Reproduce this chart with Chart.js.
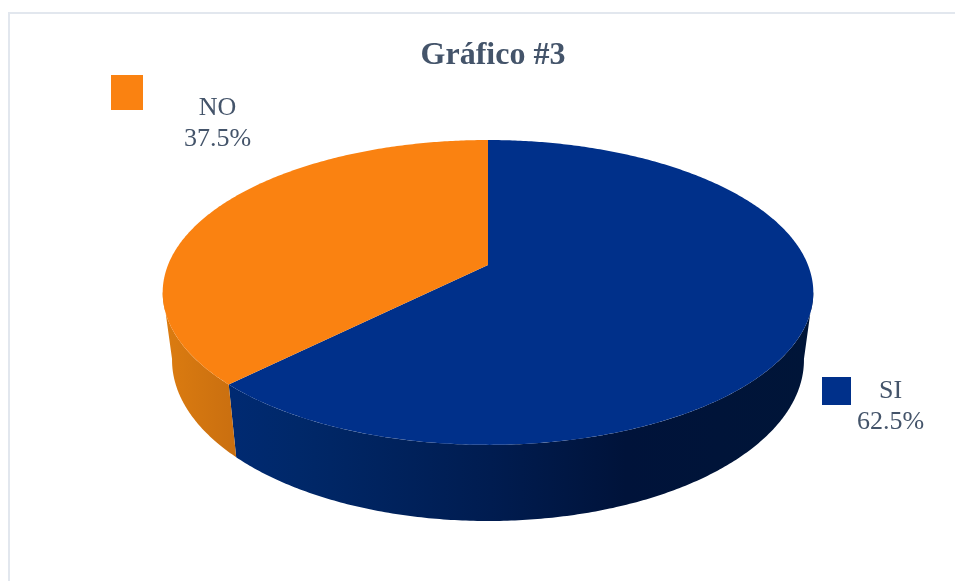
<!DOCTYPE html>
<html>
<head>
<meta charset="utf-8">
<title>Gráfico #3</title>
<script src="https://cdn.jsdelivr.net/npm/chart.js@4"></script>
<style>
    html, body { margin: 0; padding: 0; background: #fff; overflow: hidden; }
    #marco { position: absolute; left: 8px; top: 12px; right: -4px; bottom: -4px; border: 2px solid #e2e7ee; }
    #grafica { position: absolute; left: 0; top: 0; display: block; }
</style>
</head>
<body>
<div id="marco"></div>
<canvas id="grafica" width="955" height="581"></canvas>
<script>
const categorias = ['SI', 'NO'];
const porcentajes = [62.5, 37.5];
const colores = ['#00308a', '#fa8211'];

// Disco superior e inferior de la torta en perspectiva
const CX = 488;
const PERSPECTIVA = -0.18;
const discoSup = { y: 265, r: 320, alto: 147.5 };
const discoInf = { y: 331, r: 310.8, alto: 155.8 };

// Parte visible de la pared lateral (angulos desde las 12, sentido horario)
const PARED_DESDE = Math.PI * 100 / 180;
const PARED_HASTA = Math.PI * 260 / 180;

// Sombreado horizontal de cada pared: inicio, fin y paradas del degradado
const sombras = [
    { x0: 229, x1: 812, paradas: [[0, '#002a72'], [0.12, '#002869'], [0.45, '#001c50'], [0.68, '#00133a'], [1, '#001538']] },
    { x0: 163, x1: 240, paradas: [[0, '#dc7c10'], [1, '#c86e10']] }
];
const etiquetas = {
    SI: { x: 890.5, y: 391, cuadro: [822, 377, 29, 28] },
    NO: { x: 217.5, y: 108, cuadro: [111, 75, 32, 35] }
};

function proyectar(disco, ang) {
    const u = Math.sin(ang);
    const v = -Math.cos(ang);
    const d = 1 + PERSPECTIVA * v;
    return [CX + disco.r * u / d, disco.y + disco.alto * v / d];
}

function trazarArco(ctx, disco, a0, a1) {
    const pasos = Math.max(2, Math.ceil(Math.abs(a1 - a0) / 0.01));
    for (let i = 0; i <= pasos; i++) {
        const p = proyectar(disco, a0 + (a1 - a0) * i / pasos);
        ctx.lineTo(p[0], p[1]);
    }
}

const torta3d = {
    id: 'torta3d',
    beforeDatasetDraw(chart, args) {
        const ctx = chart.ctx;
        const arcos = chart.getDatasetMeta(args.index).data;
        ctx.save();

        // Paredes primero, la cara superior las tapa
        arcos.forEach((arco, i) => {
            const a0 = Math.max(arco.startAngle + Math.PI / 2, PARED_DESDE);
            const a1 = Math.min(arco.endAngle + Math.PI / 2, PARED_HASTA);
            if (a1 <= a0) return;
            const grad = ctx.createLinearGradient(sombras[i].x0, 0, sombras[i].x1, 0);
            sombras[i].paradas.forEach(s => grad.addColorStop(s[0], s[1]));
            ctx.fillStyle = grad;
            ctx.beginPath();
            trazarArco(ctx, discoSup, a0, a1);
            trazarArco(ctx, discoInf, a1, a0);
            ctx.closePath();
            ctx.fill();
        });

        // Cara superior
        arcos.forEach((arco, i) => {
            ctx.fillStyle = colores[i];
            ctx.beginPath();
            ctx.moveTo(CX, discoSup.y);
            trazarArco(ctx, discoSup, arco.startAngle + Math.PI / 2, arco.endAngle + Math.PI / 2);
            ctx.closePath();
            ctx.fill();
        });

        // Etiquetas con su cuadro de color
        ctx.font = '26px "Liberation Serif"';
        ctx.textAlign = 'center';
        ctx.textBaseline = 'middle';
        categorias.forEach((cat, i) => {
            const e = etiquetas[cat];
            ctx.fillStyle = colores[i];
            ctx.fillRect(e.cuadro[0], e.cuadro[1], e.cuadro[2], e.cuadro[3]);
            ctx.fillStyle = '#44546a';
            ctx.fillText(cat, e.x, e.y);
            ctx.fillText(porcentajes[i].toFixed(1) + '%', e.x, e.y + 31);
        });

        ctx.restore();
        return false;
    }
};

new Chart(document.getElementById('grafica'), {
    type: 'pie',
    data: {
        labels: categorias,
        datasets: [{ data: porcentajes, backgroundColor: colores, borderWidth: 0 }]
    },
    plugins: [torta3d],
    options: {
        responsive: false,
        animation: false,
        events: [],
        layout: { padding: { left: 31, top: 37 } },
        plugins: {
            legend: { display: false },
            tooltip: { enabled: false },
            title: {
                display: true,
                text: 'Gráfico #3',
                color: '#44546a',
                font: { family: '"Liberation Serif"', size: 32, weight: 'bold' },
                padding: 0
            }
        }
    }
});
</script>
</body>
</html>
